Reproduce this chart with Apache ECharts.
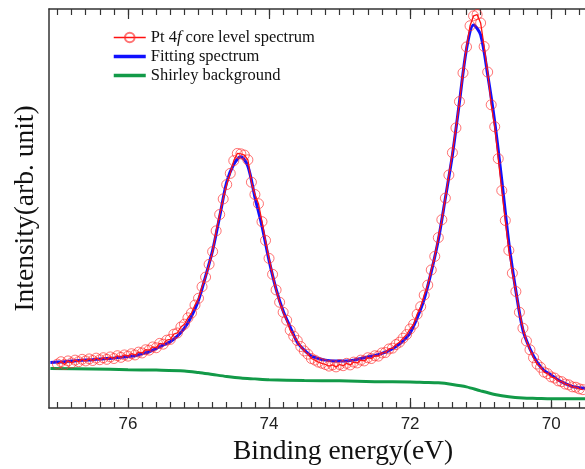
<!DOCTYPE html>
<html><head><meta charset="utf-8">
<script src="https://cdn.jsdelivr.net/npm/echarts@6/dist/echarts.min.js"></script>
<style>html,body{margin:0;padding:0;background:#fff}#c{width:585px;height:469px}</style>
</head><body><div id="c"></div>
<script>
// Experimental energies (eV) and intensities
const expEnergy = [
77.00,76.95,76.90,76.85,76.80,76.75,76.70,76.65,76.60,76.55,
76.50,76.45,76.40,76.35,76.30,76.25,76.20,76.15,76.10,76.05,
76.00,75.95,75.90,75.85,75.80,75.75,75.70,75.65,75.60,75.55,
75.50,75.45,75.40,75.35,75.30,75.25,75.20,75.15,75.10,75.05,
75.00,74.95,74.90,74.85,74.80,74.75,74.70,74.65,74.60,74.55,
74.50,74.45,74.40,74.35,74.30,74.25,74.20,74.15,74.10,74.05,
74.00,73.95,73.90,73.85,73.80,73.75,73.70,73.65,73.60,73.55,
73.50,73.45,73.40,73.35,73.30,73.25,73.20,73.15,73.10,73.05,
73.00,72.95,72.90,72.85,72.80,72.75,72.70,72.65,72.60,72.55,
72.50,72.45,72.40,72.35,72.30,72.25,72.20,72.15,72.10,72.05,
72.00,71.95,71.90,71.85,71.80,71.75,71.70,71.65,71.60,71.55,
71.50,71.45,71.40,71.35,71.30,71.25,71.20,71.15,71.10,71.05,
71.00,70.95,70.90,70.85,70.80,70.75,70.70,70.65,70.60,70.55,
70.50,70.45,70.40,70.35,70.30,70.25,70.20,70.15,70.10,70.05,
70.00,69.95,69.90,69.85,69.80,69.75,69.70,69.65,69.60,69.55];
const expIntensity = [
11.0,11.6,10.9,11.8,11.3,12.0,11.6,12.2,11.8,12.3,
11.9,12.5,12.1,12.6,12.2,12.8,12.4,13.1,12.7,13.3,
13.0,13.6,13.3,14.0,13.8,14.6,14.5,15.3,15.1,16.2,
16.0,17.0,17.2,18.5,18.8,20.3,21.0,22.6,23.8,25.8,
27.5,30.4,32.8,36.0,39.2,44.4,48.5,52.4,56.0,58.8,
62.0,63.8,63.7,63.4,62.2,56.6,53.5,51.2,46.7,42.0,
37.5,33.5,29.6,26.5,24.0,22.0,19.5,18.0,16.9,15.4,
14.3,13.5,12.4,12.0,11.5,11.2,10.9,10.5,10.8,10.3,
10.9,10.6,11.2,10.8,11.5,11.3,12.0,11.8,12.6,12.4,
13.1,13.0,13.8,13.9,14.8,15.0,15.9,16.5,17.5,18.4,
19.8,21.0,23.5,25.4,28.3,30.8,34.6,38.0,42.7,47.2,
52.6,58.4,64.0,70.2,76.8,84.0,90.5,95.8,98.3,98.6,
96.5,90.6,84.2,76.0,70.5,62.5,54.5,47.0,39.5,33.8,
29.2,24.0,20.0,16.8,14.6,12.6,11.0,10.2,9.0,8.6,
7.8,7.5,6.8,6.6,6.0,5.8,5.3,5.2,4.8,4.6];

// Fitting spectrum
const fitEnergy = [
77.1,77.0,76.9,76.8,76.7,76.6,76.5,76.4,76.3,76.2,
76.1,76.0,75.9,75.8,75.7,75.6,75.5,75.4,75.3,75.2,
75.1,75.0,74.9,74.8,74.7,74.6,74.5,74.4,74.3,74.2,
74.1,74.0,73.9,73.8,73.7,73.6,73.5,73.4,73.3,73.2,
73.1,73.0,72.9,72.8,72.7,72.6,72.5,72.4,72.3,72.2,
72.1,72.0,71.9,71.8,71.7,71.6,71.5,71.4,71.3,71.2,
71.1,71.0,70.9,70.8,70.7,70.6,70.5,70.4,70.3,70.2,
70.1,70.0,69.9,69.8,69.7,69.6,69.5];
const fitIntensity = [
11.4,11.5,11.6,11.8,11.9,12.0,12.1,12.3,12.4,12.5,
12.7,12.9,13.1,13.6,14.1,14.9,15.8,16.6,18.0,20.0,
23.0,27.0,33.0,39.5,48.0,56.6,61.1,63.0,60.6,52.8,
45.6,37.0,29.8,24.3,20.3,16.5,14.5,13.0,12.4,12.0,
11.8,11.8,11.8,12.0,12.4,12.8,13.2,13.7,14.4,15.4,
16.8,18.8,22.6,27.3,34.1,42.1,52.6,63.4,76.7,90.0,
96.0,93.5,83.5,71.7,57.1,41.4,29.3,19.5,14.8,11.5,
9.4,8.3,7.0,6.1,5.4,5.1,4.9];

// Shirley background
const bgEnergy = [77.1,76.5,76.0,75.6,75.2,75.0,74.8,74.6,74.4,74.2,74.0,73.5,73.0,72.5,72.0,71.8,71.6,71.4,71.2,71.0,70.8,70.6,70.4,70.2,70.0,69.5];
const bgIntensity = [9.9,9.8,9.6,9.5,9.3,8.9,8.4,7.9,7.5,7.3,7.1,6.9,6.8,6.6,6.5,6.4,6.3,5.9,5.3,4.3,3.4,2.8,2.5,2.4,2.3,2.3];

const majorTicks = [70, 72, 74, 76];
const tickLabels = ['70', '72', '74', '76'];
const minorTicks = [];
for (let k = 348; k <= 385; k++) minorTicks.push(+(k * 0.2).toFixed(1));

const seriesNames = ['Pt 4f core level spectrum', 'Fitting spectrum', 'Shirley background'];

const X_MIN = 69.52, X_MAX = 77.12;
const axisColor = '#333';
function xAx(pos, ticks, len, showLine, showLabel) {
  return {
    type: 'value', position: pos, min: X_MIN, max: X_MAX, inverse: true,
    axisLine: {show: showLine, onZero: false, lineStyle: {color: axisColor, width: 1.5}},
    axisTick: {show: true, inside: true, length: len, customValues: ticks, lineStyle: {color: axisColor, width: 1.2}},
    axisLabel: {show: showLabel, customValues: majorTicks, formatter: v => tickLabels[majorTicks.indexOf(v)] || '',
      color: '#222', fontFamily: 'Liberation Sans', fontSize: 17, margin: 8},
    splitLine: {show: false},
    name: showLabel ? 'Binding energy(eV)' : '',
    nameLocation: 'middle', nameGap: 30,
    nameTextStyle: {fontFamily: 'Liberation Serif', fontSize: 27.5, color: '#111', padding: [0, 0, 0, 52]}
  };
}

const chart = echarts.init(document.getElementById('c'), null, {renderer: 'canvas'});
chart.setOption({
  animation: false,
  backgroundColor: '#fff',
  grid: {left: 49, top: 9, right: 0, bottom: 61, containLabel: false, outerBoundsMode: 'none'},
  xAxis: [
    xAx('bottom', majorTicks, 10, true, true),
    xAx('bottom', minorTicks, 6, false, false),
    xAx('top', majorTicks, 10, true, false),
    xAx('top', minorTicks, 6, false, false)
  ],
  yAxis: {
    type: 'value', min: 0, max: 100,
    axisLine: {show: true, lineStyle: {color: axisColor, width: 1.5}},
    axisTick: {show: false}, axisLabel: {show: false}, splitLine: {show: false},
    name: 'Intensity(arb. unit)', nameLocation: 'middle', nameGap: 9,
    nameTextStyle: {fontFamily: 'Liberation Serif', fontSize: 27.5, color: '#111'}
  },
  legend: {
    orient: 'vertical', left: 107, top: 24, itemWidth: 32, itemHeight: 12, itemGap: 2,
    data: [
      {name: seriesNames[0], lineStyle: {width: 1.5}},
      {name: seriesNames[1], itemStyle: {opacity: 0}, lineStyle: {width: 3.5}},
      {name: seriesNames[2], itemStyle: {opacity: 0}, lineStyle: {width: 3.5}}
    ],
    formatter: n => n.indexOf('Pt') === 0 ? '{n|Pt 4}{i|f}{n| core level spectrum}' : n,
    textStyle: {fontFamily: 'Liberation Serif', fontSize: 16.5, color: '#111',
      rich: {n: {fontFamily: 'Liberation Serif', fontSize: 16.5, color: '#111'},
             i: {fontFamily: 'Liberation Serif', fontSize: 16.5, fontStyle: 'italic', color: '#111'}}}
  },
  series: [
    {name: seriesNames[2], type: 'line', xAxisIndex: 0, showSymbol: false, symbol: 'none', smooth: 0.3,
     lineStyle: {color: '#129a48', width: 3}, itemStyle: {color: '#129a48'},
     data: bgEnergy.map((e, i) => [e, bgIntensity[i]]), z: 2},
    {name: seriesNames[1], type: 'line', xAxisIndex: 0, showSymbol: false, symbol: 'none', smooth: 0.3,
     lineStyle: {color: '#1010ff', width: 3}, itemStyle: {color: '#1010ff'},
     data: fitEnergy.map((e, i) => [e, fitIntensity[i]]), z: 3},
    {name: seriesNames[0], type: 'line', xAxisIndex: 0, symbol: 'circle', symbolSize: 10, showSymbol: true,
     lineStyle: {color: '#ff1010', width: 1.3},
     itemStyle: {color: 'rgba(0,0,0,0)', borderColor: 'rgba(255,40,40,0.65)', borderWidth: 1},
     data: expEnergy.map((e, i) => [e, expIntensity[i]]), z: 4}
  ]
});
</script></body></html>
